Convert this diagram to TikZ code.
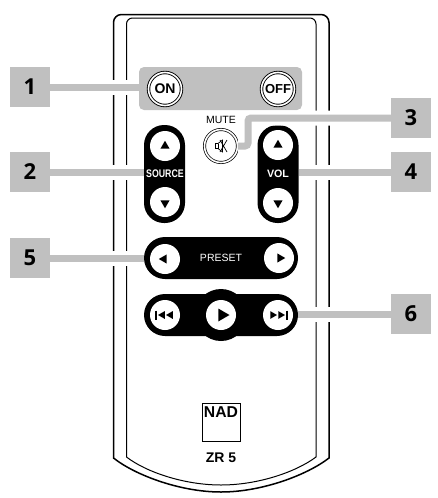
\documentclass[tikz,border=0pt]{standalone}
\usepackage{fontspec}
\setmainfont{Liberation Sans}
\newfontfamily\tagfont{Open Sans}
\usetikzlibrary{shapes,positioning,calc}
\newcommand{\fsz}[1]{\fontsize{#1}{#1}\selectfont}
\definecolor{tagGray}{HTML}{C0C0C0}

\begin{document}
\begin{tikzpicture}[
    x=1pt, y=-1pt,
    tagbox/.style={rectangle, fill=tagGray, minimum size=40pt, inner sep=0pt, font=\tagfont\bfseries\fsz{22}},
    leader/.style={draw=tagGray, line width=7pt, preaction={draw=white, line width=15pt}},
    ringbtn/.style={circle, draw=black, line width=0.9pt, double=white, double distance=1.6pt, fill=white, minimum size=33pt, inner sep=0pt},
    padbtn/.style={circle, fill=white, minimum size=30pt, inner sep=0pt},
    pillV/.style={rectangle, fill=black, rounded corners=20pt, minimum width=41pt, minimum height=98pt, inner sep=0pt},
    pillH/.style={rectangle, fill=black, rounded corners=21pt, minimum width=154pt, minimum height=42pt, inner sep=0pt},
    tri/.style={regular polygon, regular polygon sides=3, fill=black, inner sep=0pt, minimum size=#1},
    tri/.default=10.5pt,
    padlabel/.style={text=white, inner sep=0pt}
]
\useasboundingbox (0,0) rectangle (437,498);

% housing
\draw[line width=1.5pt] (113.5,458) [rounded corners=8pt] -- (113.5,14.5) -- (329,14.5) [sharp corners] -- (329,458)
    .. controls (307,475) and (262,492) .. (221,492) .. controls (180,492) and (135,475) .. cycle;
\draw[line width=1pt] (126.5,457) [rounded corners=6pt] -- (126.5,18) -- (316,18) [sharp corners] -- (316,457)
    .. controls (296,472) and (258,485) .. (221,485) .. controls (184,485) and (146,472) .. cycle;

% tags
\node[tagbox] (tag1) at (30,87) {1};
\node[tagbox] (tag2) at (30,172) {2};
\node[tagbox] (tag3) at (411,118) {3};
\node[tagbox] (tag4) at (411,172) {4};
\node[tagbox] (tag5) at (30,258) {5};
\node[tagbox] (tag6) at (411,314) {6};

% power
\node[rectangle, fill=tagGray, rounded corners=5pt, minimum width=163pt, minimum height=43pt] (power) at (220.5,88.5) {};
\node[ringbtn, font=\bfseries\fsz{14}] (on) at (165,89) {ON};
\node[ringbtn, font=\bfseries\fsz{13}] (off) at (278,89) {OFF};

% mute
\node[ringbtn, line width=0.7pt] (mute) at (221,146) {};
\node[font=\fsz{10.5}, inner sep=0pt] (mutetxt) at (221,120) {MUTE};
\begin{scope}[shift={(mute.center)}, line width=0.7pt]
\draw (-5.5,-2.5) -- (-3,-2.5) -- (1.5,-6) -- (1.5,6) -- (-3,2.5) -- (-5.5,2.5) -- cycle;
\draw (-3,-2.5) -- (-3,2.5);
\draw (-1,-6) -- (6,6) (-1,6) -- (6,-6);
\end{scope}

% source and vol
\node[pillV] (source) at (164.5,174) {};
\node[padbtn] (srcup) at (165,146) {};
\node[padbtn] (srcdn) at (165,202) {};
\node[tri] (srcupt) at (165,146) {};
\node[tri, shape border rotate=180] (srcdnt) at (165,203) {};
\node[padlabel, font=\bfseries\fsz{11}, xscale=0.8] (srctxt) at (165,174) {SOURCE};
\node[pillV] (vol) at (278,174) {};
\node[padbtn] (volup) at (278,145) {};
\node[padbtn] (voldn) at (278,203) {};
\node[tri] (volupt) at (278,145) {};
\node[tri, shape border rotate=180] (voldnt) at (278,203) {};
\node[padlabel, font=\bfseries\fsz{10.7}] (voltxt) at (278,174) {VOL};

% preset
\node[pillH, text=white, font=\fsz{10.5}] (preset) at (221,258) {PRESET};
\node[padbtn] (prel) at (165,259) {};
\node[padbtn] (prer) at (279,258) {};
\node[tri, shape border rotate=90] (prelt) at (164,259) {};
\node[tri, shape border rotate=-90] (prert) at (280,258) {};

% transport
\node[pillH] (trans) at (221,315) {};
\node[circle, fill=black, minimum size=52pt, inner sep=0pt] (hub) at (221,315) {};
\node[padbtn] (prev) at (165,315) {};
\node[padbtn] (play) at (221,315) {};
\node[padbtn] (next) at (278,315) {};
\node[tri=15pt, shape border rotate=-90] (playt) at (222,315) {};
\node[tri=9pt, shape border rotate=90] (prevt1) at (162.5,315) {};
\node[tri=9pt, shape border rotate=90] (prevt2) at (170.5,315) {};
\node[tri=9pt, shape border rotate=-90] (nextt1) at (272.5,315) {};
\node[tri=9pt, shape border rotate=-90] (nextt2) at (280.5,315) {};
\draw[line width=1.2pt] (156,310.5) -- (156,319.5);
\draw[line width=1.2pt] (287,310.5) -- (287,319.5);

% logo
\node[rectangle, draw, line width=0.8pt, minimum size=38pt, inner sep=0pt] (logo) at (221,422) {};
\node[font=\bfseries\fsz{15.7}, inner sep=0pt] (nad) at (221,412.5) {NAD};
\node[font=\bfseries\fsz{14}, below=11pt of logo.south, inner sep=0pt] (model) {ZR 5};

% leaders
\coordinate (bend3) at (248,118);
\draw[leader] (tag1.east) -- (tag1.east -| power.west);
\draw[leader] (tag2.east) -- (tag2.east -| source.west);
\draw[leader, rounded corners=3pt] (tag3.west) -- (bend3) |- (mute.east);
\draw[leader] (tag4.west) -- (tag4.west -| vol.east);
\draw[leader] (tag5.east) -- (tag5.east -| preset.west);
\draw[leader] (tag6.west) -- (tag6.west -| trans.east);
\end{tikzpicture}
\end{document}
